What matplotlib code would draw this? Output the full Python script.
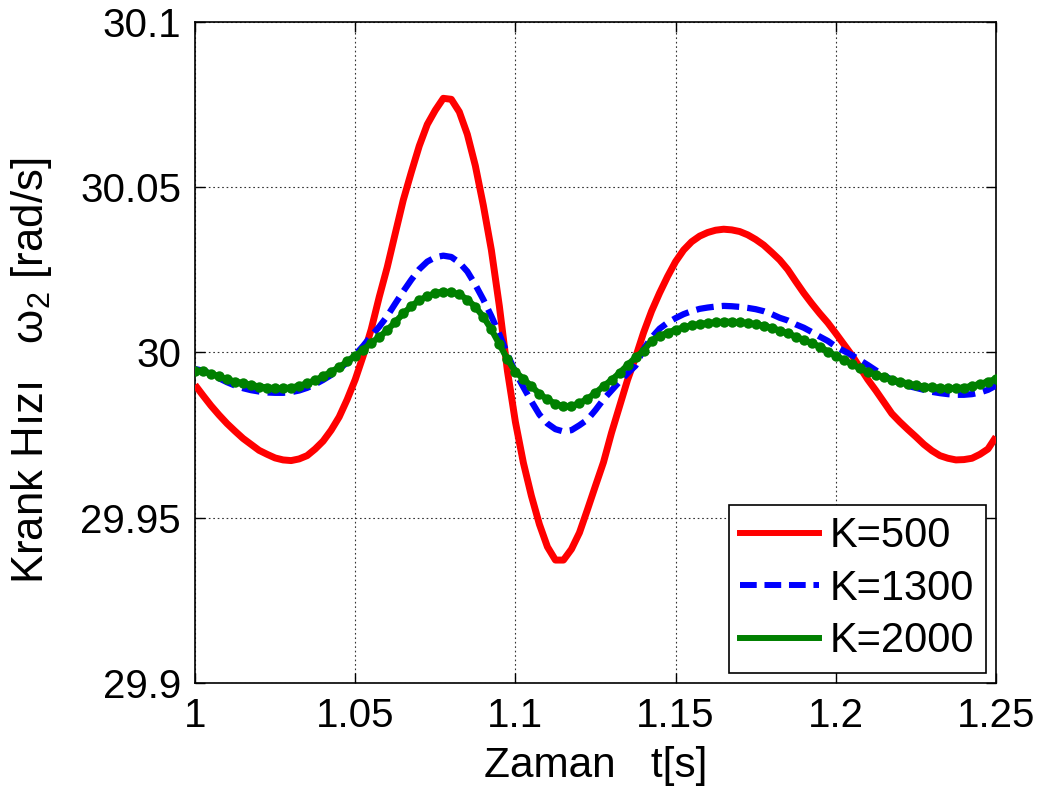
import numpy as np
import matplotlib
matplotlib.use("Agg")
import matplotlib.pyplot as plt
from matplotlib.lines import Line2D

plt.rcParams['font.family'] = ['Liberation Sans', 'DejaVu Sans']
plt.rcParams['mathtext.fontset'] = 'custom'
plt.rcParams['mathtext.rm'] = 'Liberation Sans'
plt.rcParams['mathtext.it'] = 'Liberation Sans:italic'

# time grid, 2.5 ms step
t = np.linspace(1.0, 1.25, 101)

w_k500 = [
    29.9902, 29.9870, 29.9839, 29.9811, 29.9785, 29.9762, 29.9740, 29.9722, 29.9704, 29.9692,
    29.9681, 29.9675, 29.9673, 29.9678, 29.9688, 29.9708, 29.9732, 29.9765, 29.9805, 29.9858,
    29.9918, 29.9990, 30.0070, 30.0168, 30.0258, 30.0360, 30.0461, 30.0545, 30.0625, 30.0690,
    30.0733, 30.0769, 30.0766, 30.0728, 30.0660, 30.0565, 30.0445, 30.0310, 30.0140, 29.9945,
    29.9790, 29.9666, 29.9566, 29.9480, 29.9412, 29.9372, 29.9372, 29.9405, 29.9455, 29.9525,
    29.9597, 29.9668, 29.9757, 29.9837, 29.9917, 29.9985, 30.0060, 30.0125, 30.0180, 30.0230,
    30.0275, 30.0310, 30.0335, 30.0352, 30.0363, 30.0370, 30.0373, 30.0371, 30.0366, 30.0356,
    30.0342, 30.0325, 30.0303, 30.0280, 30.0251, 30.0215, 30.0180, 30.0148, 30.0118, 30.0090,
    30.0058, 30.0025, 29.9992, 29.9955, 29.9918, 29.9885, 29.9850, 29.9815, 29.9790, 29.9767,
    29.9745, 29.9722, 29.9703, 29.9688, 29.9680, 29.9675, 29.9676, 29.9680, 29.9692, 29.9708,
    29.9745,
]

w_k1300 = [
    29.9950, 29.9945, 29.9935, 29.9922, 29.9910, 29.9900, 29.9892, 29.9886, 29.9882, 29.9879,
    29.9878, 29.9878, 29.9880, 29.9885, 29.9893, 29.9904, 29.9917, 29.9932, 29.9950, 29.9970,
    29.9993, 30.0020, 30.0050, 30.0078, 30.0110, 30.0148, 30.0185, 30.0220, 30.0252, 30.0275,
    30.0288, 30.0293, 30.0289, 30.0272, 30.0245, 30.0205, 30.0160, 30.0110, 30.0055, 29.9995,
    29.9940, 29.9895, 29.9852, 29.9812, 29.9785, 29.9768, 29.9761, 29.9765, 29.9780, 29.9797,
    29.9826, 29.9858, 29.9885, 29.9912, 29.9937, 29.9960, 30.0010, 30.0045, 30.0072, 30.0090,
    30.0104, 30.0116, 30.0125, 30.0132, 30.0136, 30.0139, 30.0141, 30.0140, 30.0138, 30.0135,
    30.0131, 30.0125, 30.0116, 30.0105, 30.0097, 30.0085, 30.0075, 30.0062, 30.0048, 30.0035,
    30.0018, 30.0005, 29.9992, 29.9977, 29.9962, 29.9946, 29.9931, 29.9917, 29.9907, 29.9899,
    29.9893, 29.9887, 29.9881, 29.9877, 29.9874, 29.9872, 29.9872, 29.9874, 29.9879, 29.9887,
    29.9900,
]

w_k2000 = [
    29.9945, 29.9943, 29.9936, 29.9928, 29.9919, 29.9912, 29.9907, 29.9902, 29.9897, 29.9894,
    29.9892, 29.9892, 29.9894, 29.9899, 29.9907, 29.9916, 29.9928, 29.9942, 29.9955, 29.9973,
    29.9990, 30.0008, 30.0030, 30.0046, 30.0068, 30.0092, 30.0118, 30.0140, 30.0158, 30.0170,
    30.0180, 30.0184, 30.0182, 30.0176, 30.0160, 30.0138, 30.0108, 30.0070, 30.0025, 29.9980,
    29.9942, 29.9920, 29.9898, 29.9875, 29.9858, 29.9845, 29.9837, 29.9838, 29.9847, 29.9860,
    29.9878, 29.9898, 29.9917, 29.9938, 29.9962, 29.9985, 30.0005, 30.0036, 30.0050, 30.0060,
    30.0069, 30.0076, 30.0082, 30.0086, 30.0089, 30.0091, 30.0093, 30.0093, 30.0091, 30.0089,
    30.0086, 30.0081, 30.0075, 30.0066, 30.0058, 30.0048, 30.0038, 30.0028, 30.0018, 30.0003,
    29.9990, 29.9978, 29.9965, 29.9952, 29.9942, 29.9933, 29.9925, 29.9918, 29.9912, 29.9906,
    29.9901, 29.9897, 29.9895, 29.9893, 29.9892, 29.9892, 29.9894, 29.9899, 29.9905, 29.9912,
    29.9920,
]

labels = ['K=500', 'K=1300', 'K=2000']
xticks = [1, 1.05, 1.1, 1.15, 1.2, 1.25]
xticklabels = ['1', '1.05', '1.1', '1.15', '1.2', '1.25']
yticks = [29.9, 29.95, 30, 30.05, 30.1]
yticklabels = ['29.9', '29.95', '30', '30.05', '30.1']

red = '#ff0000'
blue = '#0000ff'
green = '#008000'

fig = plt.figure(figsize=(10.45, 7.9), dpi=100)
ax = fig.add_axes([0.1866, 0.1354, 0.7665, 0.8368])

ax.plot(t, w_k500, color=red, lw=5, solid_capstyle='butt', zorder=3)
ax.plot(t, w_k1300, color=blue, lw=4.5, dashes=(2.8, 1.3), zorder=4)
ax.plot(t, w_k2000, color=green, lw=4.5, zorder=5)
ax.plot(t, w_k2000, ls='none', marker='o', ms=7.5, mew=0, color=green, zorder=5)

ax.set_xlim(1, 1.25)
ax.set_ylim(29.9, 30.1)
ax.set_xticks(xticks)
ax.set_xticklabels(xticklabels)
ax.set_yticks(yticks)
ax.set_yticklabels(yticklabels)

ax.grid(True, linestyle=(0, (1.5, 2.5)), linewidth=0.8, color='#333333')
ax.tick_params(direction='in', length=7, width=1, top=True, right=True,
               labelsize=29, pad=10)
for s in ax.spines.values():
    s.set_linewidth(1.2)

ax.set_xlabel('Zaman   t[s]', fontsize=30.5)
ax.set_ylabel('Krank Hızı   ω$_2$ [rad/s]', fontsize=31.5)
ax.xaxis.set_label_coords(0.5, -0.095)
ax.yaxis.set_label_coords(-0.176, 0.472)

handles = [Line2D([], [], color=red, lw=4.3),
           Line2D([], [], color=blue, lw=4.3, dashes=(2.8, 1.3)),
           Line2D([], [], color=green, lw=4.3)]
leg = ax.legend(handles, labels, loc='lower right', fontsize=30, frameon=True,
                fancybox=False, framealpha=1, edgecolor='black',
                handlelength=1.9, handletextpad=0.25, labelspacing=0.3,
                borderpad=0.28, borderaxespad=0.24)
leg.get_frame().set_linewidth(1.2)

fig.savefig('out.png', dpi=100)
